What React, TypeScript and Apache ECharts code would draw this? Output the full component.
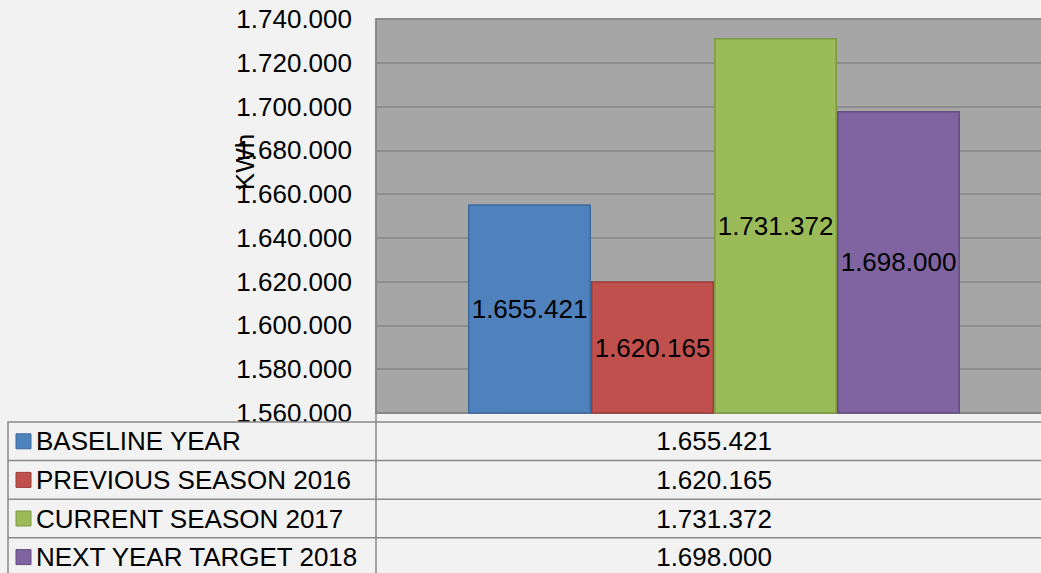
import React, { useEffect, useRef } from "react";
import * as echarts from "echarts";

const categories = ["KWh"];
const seriesNames = [
  "BASELINE YEAR",
  "PREVIOUS SEASON 2016",
  "CURRENT SEASON 2017",
  "NEXT YEAR TARGET 2018",
];
const seriesValues = [1655421, 1620165, 1731372, 1698000];
const seriesColors = ["#4f81bd", "#c0504d", "#9bbb59", "#8064a2"];
const seriesBorders = ["#3d6a9e", "#9b3d3a", "#7d9a44", "#634d83"];
const yMin = 1560000;
const yMax = 1740000;
const yStep = 20000;
const axisTitle = "KWh";

const fmt = (v: number) =>
  Math.round(v)
    .toString()
    .replace(/\B(?=(\d{3})+(?!\d))/g, ".");

const FONT = "'Liberation Sans', Arial, sans-serif";

export default function App() {
  const ref = useRef<HTMLDivElement>(null);
  useEffect(() => {
    if (!ref.current) return;
    const chart = echarts.init(ref.current, null, { renderer: "svg" });

    const gridLeft = 376;
    const gridTop = 19;
    const gridW = 676;
    const gridH = 394;
    const tableTop = 422;
    const rowH = 38.6;
    const lineColor = "#8a8a8a";

    const graphics: any[] = [];
    graphics.push({
      type: "rect",
      z: 100,
      shape: { x: 8, y: tableTop, width: 1100, height: 200 },
      style: { fill: "#f2f2f2", stroke: lineColor, lineWidth: 1.5 },
    });
    for (let i = 1; i < 4; i++) {
      const y = tableTop + rowH * i;
      graphics.push({
        type: "line",
        z: 101,
        shape: { x1: 8, y1: y, x2: 1100, y2: y },
        style: { stroke: lineColor, lineWidth: 1.5 },
      });
    }
    graphics.push({
      type: "line",
      z: 101,
      shape: { x1: gridLeft, y1: gridTop + gridH, x2: gridLeft, y2: 600 },
      style: { stroke: lineColor, lineWidth: 1.5 },
    });
    seriesNames.forEach((name, i) => {
      const cy = tableTop + rowH * i + rowH / 2;
      graphics.push({
        type: "rect",
        z: 102,
        shape: { x: 16, y: cy - 7.5, width: 15, height: 15 },
        style: { fill: seriesColors[i], stroke: seriesBorders[i], lineWidth: 1 },
      });
      graphics.push({
        type: "text",
        z: 102,
        x: 36,
        y: cy,
        style: {
          text: name,
          font: `26px ${FONT}`,
          fill: "#000",
          textVerticalAlign: "middle",
          verticalAlign: "middle",
        },
      });
      graphics.push({
        type: "text",
        z: 102,
        x: gridLeft + gridW / 2,
        y: cy,
        style: {
          text: fmt(seriesValues[i]),
          font: `26px ${FONT}`,
          fill: "#000",
          align: "center",
          textAlign: "center",
          verticalAlign: "middle",
          textVerticalAlign: "middle",
        },
      });
    });
    graphics.push({
      type: "text",
      z: 50,
      x: 245,
      y: 162,
      rotation: Math.PI / 2,
      style: {
        text: axisTitle,
        font: `26px ${FONT}`,
        fill: "#000",
        align: "center",
        textAlign: "center",
        verticalAlign: "middle",
        textVerticalAlign: "middle",
      },
    });

    chart.setOption({
      animation: false,
      backgroundColor: "#f2f2f2",
      grid: {
        left: gridLeft,
        top: gridTop,
        width: gridW,
        height: gridH,
        show: true,
        backgroundColor: "#a6a6a6",
        borderColor: "#868686",
        borderWidth: 1.5,
      },
      xAxis: {
        type: "category",
        data: categories,
        axisLabel: { show: false },
        axisTick: { show: false },
        axisLine: { lineStyle: { color: "#868686", width: 1.5 } },
      },
      yAxis: {
        type: "value",
        min: yMin,
        max: yMax,
        interval: yStep,
        axisLine: { show: true, lineStyle: { color: "#868686", width: 1.5 } },
        axisTick: { show: false },
        splitLine: { lineStyle: { color: "#868686", width: 1.5 } },
        axisLabel: {
          formatter: (v: number) => fmt(v),
          color: "#000",
          fontSize: 26,
          fontFamily: FONT,
          margin: 24,
        },
      },
      series: seriesNames.map((name, i) => ({
        type: "bar",
        name,
        data: [seriesValues[i]],
        barWidth: 123,
        barGap: "0%",
        itemStyle: {
          color: seriesColors[i],
          borderColor: seriesBorders[i],
          borderWidth: 1.5,
        },
        label: {
          show: true,
          position: "inside",
          formatter: () => fmt(seriesValues[i]),
          color: "#000",
          fontSize: 26,
          fontFamily: FONT,
        },
      })),
      graphic: graphics,
    });
    return () => chart.dispose();
  }, []);

  return (
    <div
      style={{
        position: "fixed",
        left: 0,
        top: 0,
        width: 1041,
        height: 573,
        overflow: "hidden",
        background: "#f2f2f2",
      }}
    >
      <div ref={ref} style={{ width: 1100, height: 573 }} />
    </div>
  );
}
